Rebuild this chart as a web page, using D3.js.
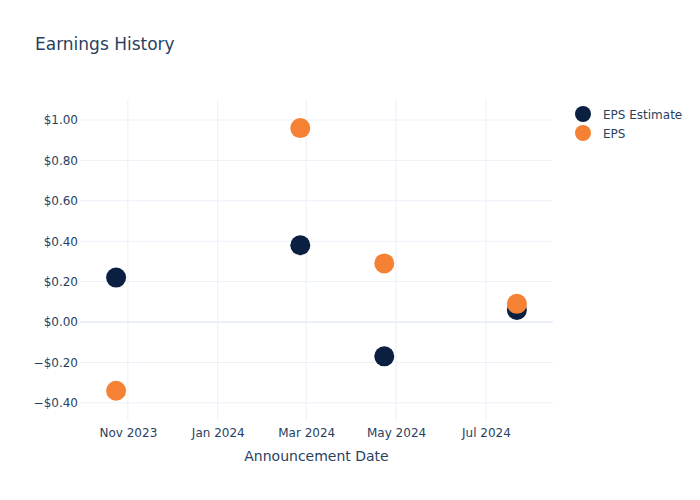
<!DOCTYPE html>
<html>
<head>
<meta charset="utf-8">
<script src="https://cdn.jsdelivr.net/npm/d3@7"></script>
<style>
  body { margin: 0; background: #fff; }
  svg { font-family: "DejaVu Sans", sans-serif; }
</style>
</head>
<body>
<svg id="chart" width="700" height="500"></svg>
<script>
const dates = ["2023-10-24", "2024-02-26", "2024-04-23", "2024-07-22"];
const epsEstimate = [0.22, 0.38, -0.17, 0.06];
const eps = [-0.34, 0.96, 0.29, 0.09];
const seriesNames = ["EPS Estimate", "EPS"];
const seriesColors = ["#0b1f41", "#f58134"];
const xTicks = ["2023-11-01", "2024-01-01", "2024-03-01", "2024-05-01", "2024-07-01"];
const yTicks = [-0.4, -0.2, 0, 0.2, 0.4, 0.6, 0.8, 1.0];
const xDomain = ["2023-09-29T12:00", "2024-08-15T12:00"];
const yDomain = [-0.485, 1.099];

const parse = d3.isoParse;
const W = 700, H = 500;
const m = { l: 80, r: 147, t: 100, b: 80 };
const svg = d3.select("#chart");
const textColor = "#2a3f5f";
const gridColor = "#ebf0f8";

const x = d3.scaleTime().domain(xDomain.map(parse)).range([m.l, W - m.r]);
const y = d3.scaleLinear().domain(yDomain).range([H - m.b, m.t]);

// grid
const g = svg.append("g");
g.selectAll("line.vx").data(xTicks.map(parse)).join("line")
  .attr("x1", d => x(d)).attr("x2", d => x(d))
  .attr("y1", m.t).attr("y2", H - m.b)
  .attr("stroke", gridColor).attr("stroke-width", 1);
g.selectAll("line.hy").data(yTicks).join("line")
  .attr("x1", m.l).attr("x2", W - m.r)
  .attr("y1", d => y(d)).attr("y2", d => y(d))
  .attr("stroke", gridColor).attr("stroke-width", d => d === 0 ? 2 : 1);

// axes
const fmtY = d => (d < 0 ? "\u2212" : "") + "$" + Math.abs(d).toFixed(2);
const xAxis = d3.axisBottom(x).tickValues(xTicks.map(parse))
  .tickFormat(d3.timeFormat("%b %Y")).tickSize(0).tickPadding(8);
const yAxis = d3.axisLeft(y).tickValues(yTicks).tickFormat(fmtY).tickSize(0).tickPadding(2);

const xa = svg.append("g").attr("transform", `translate(0,${H - m.b})`).call(xAxis);
const ya = svg.append("g").attr("transform", `translate(${m.l - 0},0)`).call(yAxis);
[xa, ya].forEach(a => {
  a.select(".domain").remove();
  a.selectAll("text").attr("fill", textColor).style("font-size", "12px").style("font-family", "DejaVu Sans, sans-serif");
});

// series
const series = [epsEstimate, eps];
series.forEach((vals, i) => {
  svg.append("g").selectAll("circle").data(vals).join("circle")
    .attr("cx", (d, j) => x(parse(dates[j])))
    .attr("cy", d => y(d))
    .attr("r", 10)
    .attr("fill", seriesColors[i]);
});

// title
svg.append("text").attr("x", 35).attr("y", 50).text("Earnings History")
  .attr("fill", textColor).style("font-size", "17px");

// x axis title
svg.append("text").attr("x", (m.l + W - m.r) / 2).attr("y", 461)
  .attr("text-anchor", "middle").text("Announcement Date")
  .attr("fill", textColor).style("font-size", "14px");

// legend
const lg = svg.append("g");
seriesNames.forEach((n, i) => {
  const yy = 114 + i * 19;
  lg.append("circle").attr("cx", 583).attr("cy", yy).attr("r", 8).attr("fill", seriesColors[i]);
  lg.append("text").attr("x", 603).attr("y", yy + 4.5).text(n)
    .attr("fill", textColor).style("font-size", "12px");
});
</script>
</body>
</html>
